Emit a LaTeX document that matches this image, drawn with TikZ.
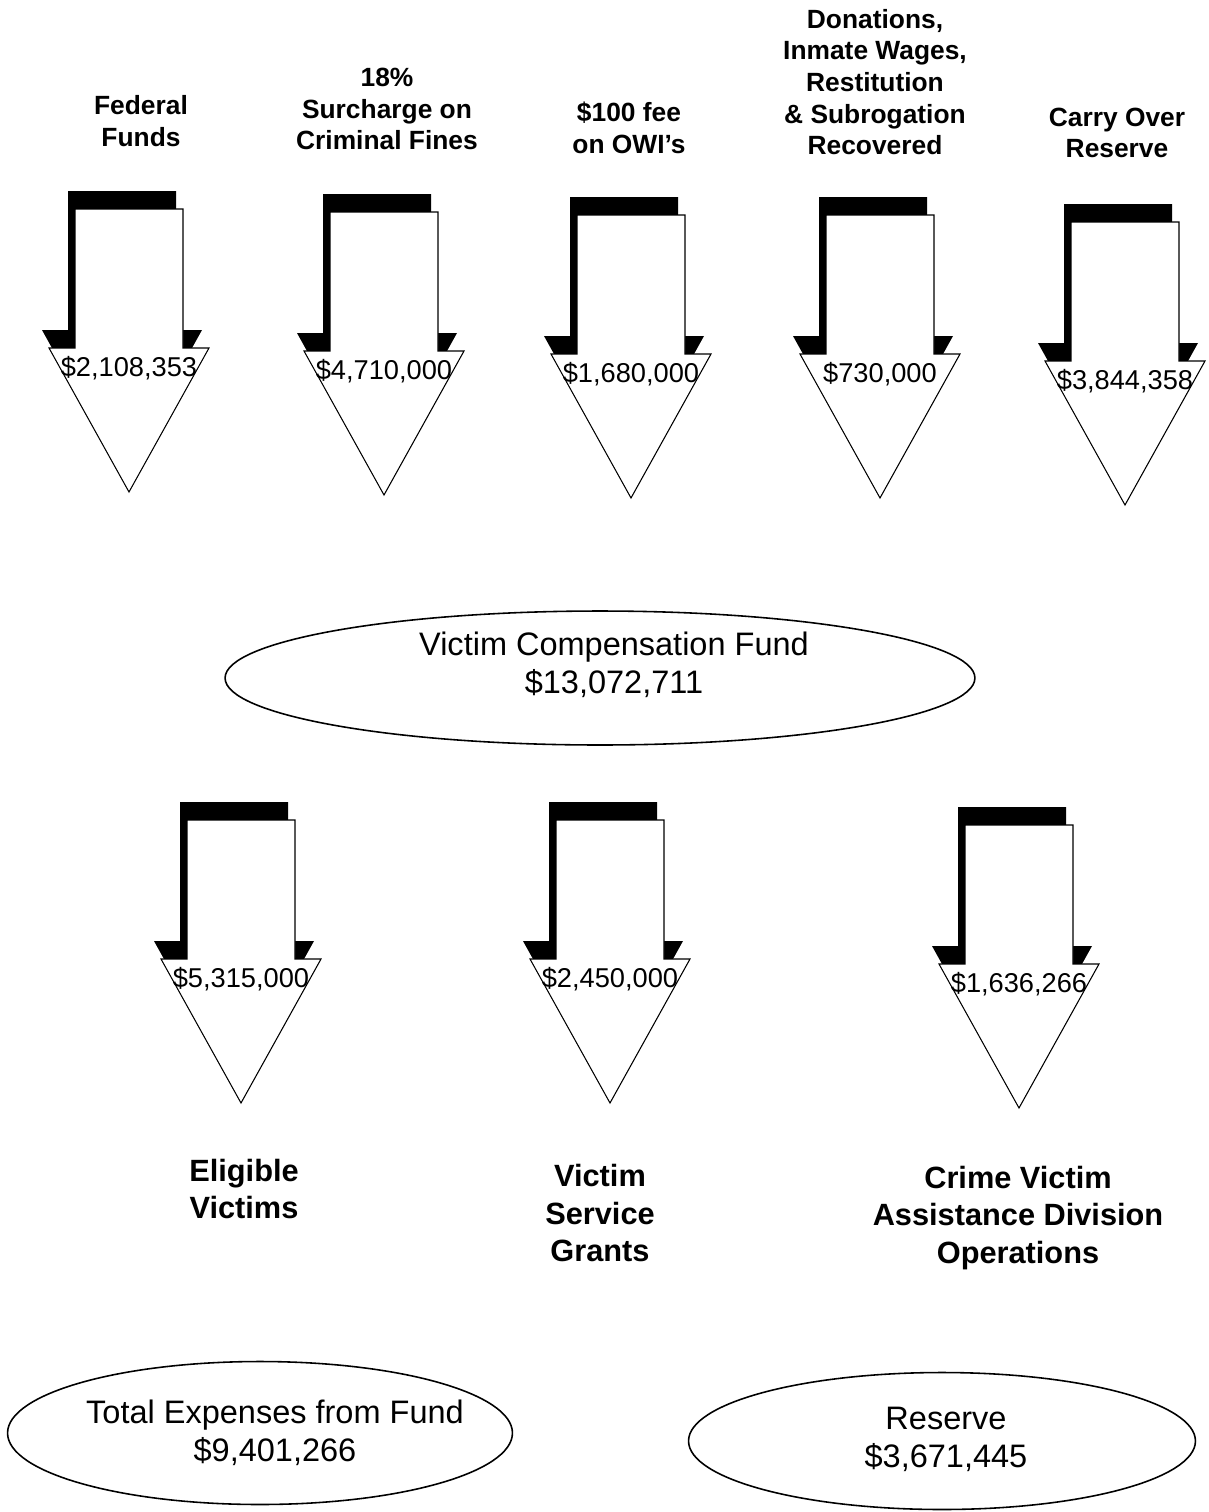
\documentclass[tikz,border=0pt]{standalone}
\usepackage{fontspec}
\setmainfont{Liberation Sans}
\usetikzlibrary{shapes.geometric}

\tikzset{
  srclabel/.style={font=\fontsize{15}{18}\selectfont\bfseries, align=center},
  uselabel/.style={font=\fontsize{17.5}{21.5}\selectfont\bfseries, align=center},
  amount/.style={font=\fontsize{15.5}{18}\selectfont, inner sep=0pt},
  fundoval/.style={draw, ellipse, line width=0.9pt, inner sep=0pt},
  ovaltext/.style={align=center, inner sep=0pt, font=\fontsize{18.5}{21.5}\selectfont},
  pics/flowarrow/.style={code={
    \fill[black, shift={(-7,-18)}] (-80,-144) -- (-54,-144) -- (-54,-283) -- (54,-283)
      -- (54,-144) -- (80,-144) -- (0,0) -- cycle;
    \filldraw[fill=white, draw=black, line width=0.6pt] (-80,-144) -- (-54,-144) -- (-54,-283)
      -- (54,-283) -- (54,-144) -- (80,-144) -- (0,0) -- cycle;
    \node[amount] (-amount) at (0,-124) {#1};
  }}
}

\begin{document}
\begin{tikzpicture}[x=0.02cm, y=-0.02cm]
\useasboundingbox (0,0) rectangle (1208,1512);

% sources
\node[srclabel] (fedtext) at (141,121) {Federal\\Funds};
\node[srclabel] (surtext) at (387,109) {18\%\\Surcharge on\\Criminal Fines};
\node[srclabel] (owitext) at (629,128) {\$100 fee\\on OWI's};
\node[srclabel] (dontext) at (875,82) {Donations,\\Inmate Wages,\\Restitution\\\& Subrogation\\Recovered};
\node[srclabel] (carrytext) at (1117,133) {Carry Over\\Reserve};

\pic (fed) at (129,492) {flowarrow={\$2,108,353}};
\pic (sur) at (384,495) {flowarrow={\$4,710,000}};
\pic (owi) at (631,498) {flowarrow={\$1,680,000}};
\pic (don) at (880,498) {flowarrow={\$730,000}};
\pic (carry) at (1125,505) {flowarrow={\$3,844,358}};

% fund
\node[fundoval, minimum width=15cm, minimum height=2.68cm] (fund) at (600,678) {};
\node[ovaltext] (fundtext) at (614,665) {Victim Compensation Fund\\\$13,072,711};

% uses
\pic (elig) at (241,1103) {flowarrow={\$5,315,000}};
\pic (serv) at (610,1103) {flowarrow={\$2,450,000}};
\pic (oper) at (1019,1108) {flowarrow={\$1,636,266}};

\node[uselabel] (eligtext) at (244,1189) {Eligible\\Victims};
\node[uselabel] (servtext) at (600,1213) {Victim\\Service\\Grants};
\node[uselabel] (opertext) at (1018,1218) {Crime Victim\\Assistance Division\\Operations};

% totals
\node[fundoval, minimum width=10.1cm, minimum height=2.86cm] (total) at (260,1433) {};
\node[ovaltext] (totaltext) at (275,1433) {Total Expenses from Fund\\\$9,401,266};
\node[fundoval, minimum width=10.14cm, minimum height=2.74cm] (reserve) at (942,1441) {};
\node[ovaltext] (reservetext) at (946,1439) {Reserve\\\$3,671,445};

\end{tikzpicture}
\end{document}
